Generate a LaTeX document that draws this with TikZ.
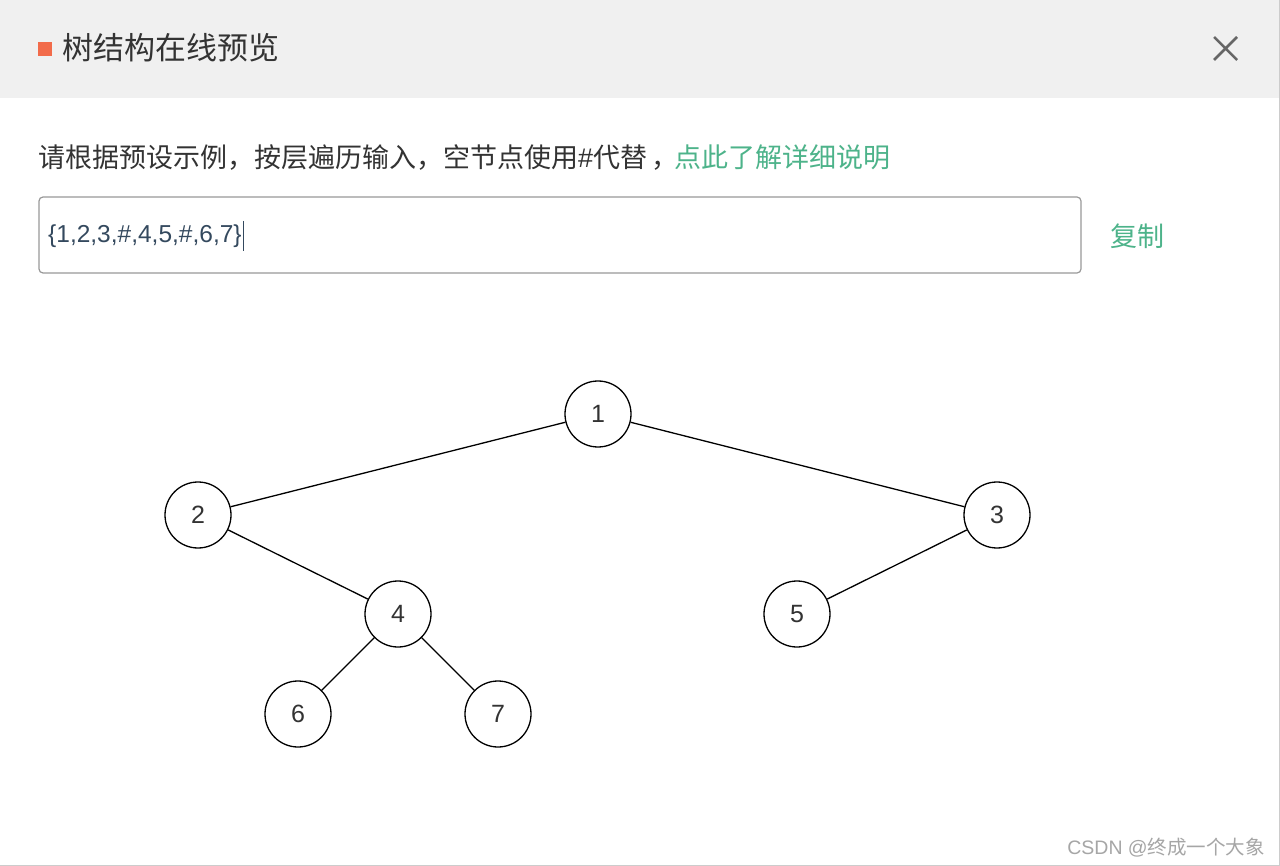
\documentclass[tikz,border=0pt]{standalone}
\usepackage{fontspec}
\setmainfont{Noto Sans CJK SC}
\newfontfamily\lat{Liberation Sans}
\definecolor{hdr}{HTML}{F0F0F0}
\definecolor{grn}{HTML}{4DB38A}
\definecolor{inp}{HTML}{34495E}
\definecolor{txt}{HTML}{333333}
\definecolor{org}{HTML}{F26B4A}
\begin{document}
\begin{tikzpicture}[x=1pt,y=-1pt,
  tn/.style={circle,draw=black,line width=1.3pt,minimum size=66pt,inner sep=0pt,font=\lat\fontsize{25}{27}\selectfont,text=txt,fill=white},
  ed/.style={line width=1.3pt}]
\useasboundingbox (0,0) rectangle (1280,866);
\fill[white] (0,0) rectangle (1280,866);
\fill[hdr] (0,0) rectangle (1280,98);
\draw[gray!40,line width=1pt] (1279,0) -- (1279,866) (0,865)--(1280,865);
\fill[org] (38,42) rectangle (52,56);
\node[anchor=west,inner sep=0,font=\fontsize{31}{33}\selectfont,text=txt] (title) at (62,48) {树结构在线预览};
\draw[line width=2.5pt,color=gray!80!black] (1214,37) -- (1237,60) (1237,37) -- (1214,60);
\node[anchor=west,inner sep=0,font=\fontsize{27}{29}\selectfont,text=txt] (instr) at (38,158) {请根据预设示例，按层遍历输入，空节点使用{\lat\#}代替\,，\hspace{-4pt}\textcolor{grn}{点此了解详细说明}};
\draw[gray!80,line width=1.2pt,rounded corners=4pt] (39,197) rectangle (1081,273);
\node[anchor=west,inner sep=0,font=\lat\fontsize{24.5}{27}\selectfont,text=inp] (val) at (48,236) {\{1,2,3,\#,4,5,\#,6,7\}};
\draw[inp,line width=1pt] ([xshift=2pt]val.east) ++(0,-15) -- ++(0,30);
\node[font=\fontsize{27}{29}\selectfont,text=grn] (copy) at (1137,236) {复制};
\node[tn] (n1) at (598,414) {1};
\node[tn] (n2) at (198,515) {2};
\node[tn] (n3) at (997,515) {3};
\node[tn] (n4) at (398,614) {4};
\node[tn] (n5) at (797,614) {5};
\node[tn] (n6) at (298,714) {6};
\node[tn] (n7) at (498,714) {7};
\draw[ed] (n1)--(n2) (n1)--(n3) (n2)--(n4) (n3)--(n5) (n4)--(n6) (n4)--(n7);
\node[anchor=east,inner sep=0,font=\fontsize{19.5}{21}\selectfont,text=gray!70] (wm) at (1265,848) {{\lat CSDN @}终成一个大象};
\end{tikzpicture}
\end{document}
